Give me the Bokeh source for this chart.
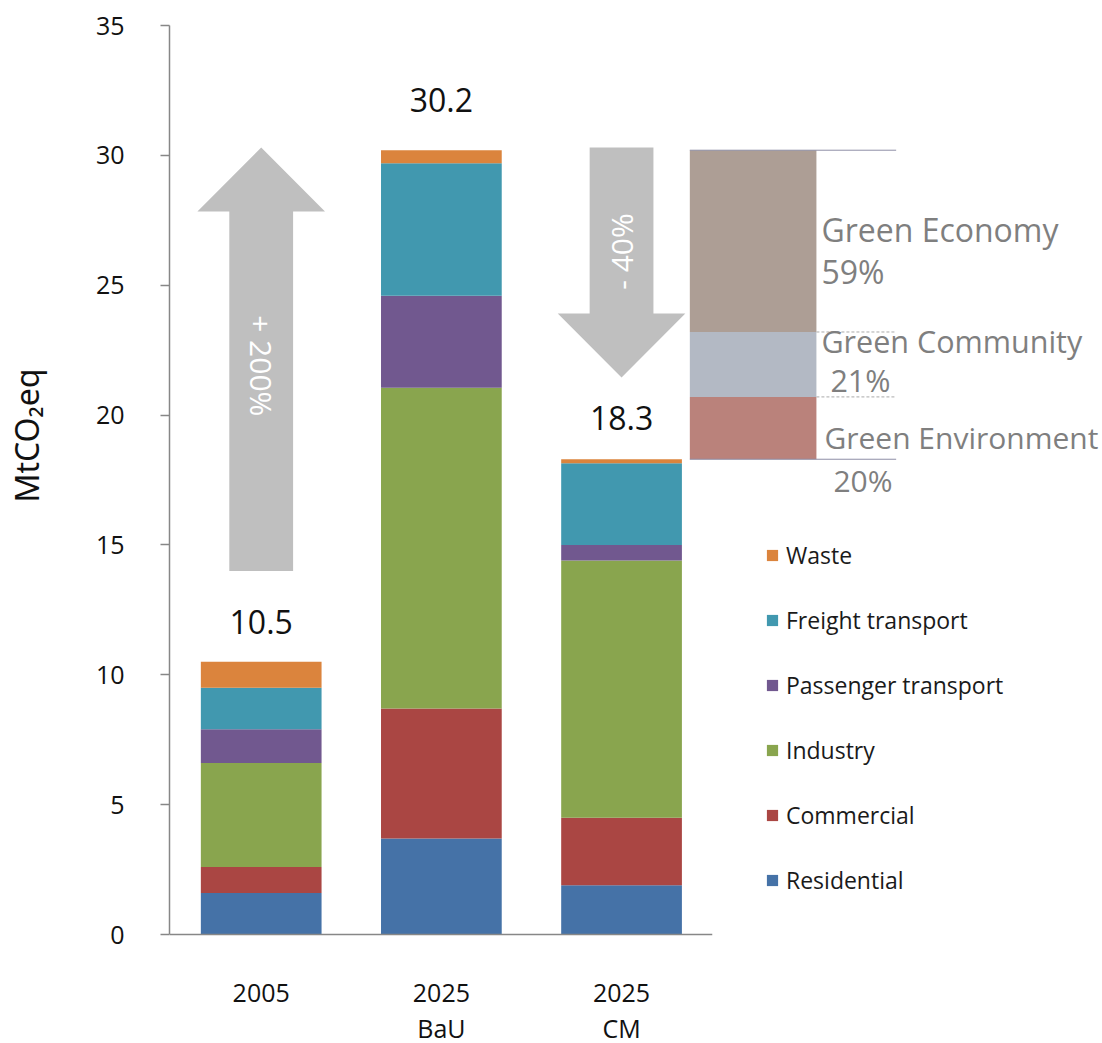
import math
from bokeh.plotting import figure
from bokeh.models import (ColumnDataSource, Range1d, FixedTicker, Legend, LegendItem, Title)
from bokeh.core.properties import value
from bokeh.embed import file_html
from bokeh.resources import INLINE

# ---------------- data ----------------
categories = ["2005", "2025 BaU", "2025 CM"]
cat_line1 = ["2005", "2025", "2025"]
cat_line2 = ["", "BaU", "CM"]
sectors = ["Residential", "Commercial", "Industry", "Passenger transport", "Freight transport", "Waste"]
residential = [1.6, 3.7, 1.9]
commercial = [1.0, 5.0, 2.6]
industry = [4.0, 12.35, 9.9]
passenger = [1.3, 3.55, 0.6]
freight = [1.6, 5.1, 3.15]
waste = [1.0, 0.5, 0.15]
totals = [10.5, 30.2, 18.3]
total_labels = ["10.5", "30.2", "18.3"]

colors = ["#4572A7", "#AA4643", "#89A54E", "#71588F", "#4198AF", "#DB843D"]

# reduction split (from 2025 CM total upward)
green_names = ["Green Environment", "Green Community", "Green Economy"]
green_pct = ["20%", "21%", "59%"]
green_heights = [2.4, 2.5, 7.0]
green_colors = ["#BA827B", "#B3B9C4", "#AD9E95"]

# arrows: change between scenarios
arrow_x = [0, 2]
arrow_from = [14.0, 30.3]
arrow_to = [30.3, 21.45]
arrow_text = ["+ 200%", "- 40%"]

y_ticks = [0, 5, 10, 15, 20, 25, 30, 35]

# ---------------- layout ----------------
W, H = 1102, 1043
FL, FT = 166, 10          # frame left / top (px)
X0PX, Y0PX = 258, 934     # pixel of category 0 / y = 0
PX_X = 180.75             # px per category unit
PX_Y = 25.97              # px per y unit
x_start = -(X0PX - FL) / PX_X
x_end = x_start + (W - FL) / PX_X
y_end = (Y0PX - FT) / PX_Y
y_start = -(H - Y0PX) / PX_Y

p = figure(width=W, height=H, output_backend="svg", toolbar_location=None,
           x_range=Range1d(x_start, x_end), y_range=Range1d(y_start, y_end),
           x_axis_type=None, min_border_left=FL, min_border_right=0,
           min_border_top=FT, min_border_bottom=0)
p.outline_line_color = None
p.grid.visible = False
p.background_fill_color = "white"

FONT = "Open Sans"
ax = p.yaxis[0]
ax.ticker = FixedTicker(ticks=y_ticks)
ax.bounds = (0, 35)
ax.axis_line_color = "#878787"
ax.axis_line_width = 1.5
ax.major_tick_line_color = "#878787"
ax.major_tick_line_width = 1.5
ax.major_tick_out = 9
ax.major_tick_in = 0
ax.minor_tick_line_color = None
ax.major_label_text_font = FONT
ax.major_label_text_font_size = "25px"
ax.major_label_text_color = "#111111"
ax.major_label_standoff = 36

# y axis title (second, blank line keeps it away from the tick labels)
p.add_layout(Title(text="MtCO₂eq\n\u00a0", align="right", offset=358, standoff=4,
                   text_font="Noto Sans", text_font_size="32px", text_font_style="normal",
                   text_color="#111111"), "left")

# bars
xs = list(range(len(categories)))
src = ColumnDataSource(dict(x=xs, Residential=residential, Commercial=commercial, Industry=industry,
                            **{"Passenger transport": passenger, "Freight transport": freight},
                            Waste=waste, total=totals, tlab=total_labels,
                            l1=cat_line1, l2=cat_line2))
rs = p.vbar_stack(sectors, x="x", width=0.67, source=src, color=colors, line_color=None)

# baseline (x axis line)
p.segment(x0=[x_start], y0=[0], x1=[2 + 91 / PX_X], y1=[0], line_color="#878787", line_width=1.5)

# totals
src.data["toff"] = [-40, -50, -41]
p.text(x="x", y="total", text="tlab", source=src, text_align="center", text_baseline="alphabetic",
       y_offset="toff", text_font=value(FONT), text_font_size="32px", text_color="#111111")

# category labels
p.text(x="x", y=0, text="l1", source=src, text_align="center", text_baseline="middle",
       y_offset=58, text_font=value(FONT), text_font_size="25px", text_color="#111111")
p.text(x="x", y=0, text="l2", source=src, text_align="center", text_baseline="middle",
       y_offset=93, text_font=value(FONT), text_font_size="25px", text_color="#111111")

# arrows
shaft_hw = 32 / PX_X
head_hw = 64 / PX_X
head_len = 64 / PX_Y
axs, ays = [], []
for xc, y0, y1 in zip(arrow_x, arrow_from, arrow_to):
    d = 1 if y1 > y0 else -1
    yb = y1 - d * head_len
    axs.append([xc - shaft_hw, xc - shaft_hw, xc - head_hw, xc, xc + head_hw, xc + shaft_hw, xc + shaft_hw])
    ays.append([y0, yb, yb, y1, yb, yb, y0])
p.patches(axs, ays, fill_color="#BFBFBF", line_color=None)
p.text(x=[arrow_x[0]], y=[21.9], text=[arrow_text[0]], angle=-math.pi / 2, text_align="center",
       text_baseline="middle", text_font=value(FONT), text_font_size="30px", text_color="white")
p.text(x=[arrow_x[1]], y=[26.3], text=[arrow_text[1]], angle=math.pi / 2, text_align="center",
       text_baseline="middle", text_font=value(FONT), text_font_size="30px", text_color="white")

# green breakdown blocks
gx0 = (688 - X0PX) / PX_X
gx1 = (815 - X0PX) / PX_X
gxl = (895 - X0PX) / PX_X
bottoms, tops = [], []
b = totals[2]
for h in green_heights:
    bottoms.append(b)
    tops.append(b + h)
    b += h
gsrc = ColumnDataSource(dict(bottom=bottoms, top=tops, color=green_colors, name=green_names, pct=green_pct,
                             mid=[(a + c) / 2 for a, c in zip(bottoms, tops)]))
p.quad(left=gx0, right=gx1, bottom="bottom", top="top", fill_color="color", line_color=None, source=gsrc)
p.segment(x0=[gx0, gx0], y0=[tops[-1], bottoms[0]], x1=[gxl, gxl], y1=[tops[-1], bottoms[0]],
          line_color="#8E8EA6", line_width=1)
p.segment(x0=[gx1, gx1], y0=[tops[0], tops[1]], x1=[gxl, gxl], y1=[tops[0], tops[1]],
          line_color="#AAAAAA", line_width=1, line_dash="3 2")
gsrc.data["nx"] = [8, 5, 5]
gsrc.data["ny"] = [9, -23, -12]
gsrc.data["px"] = [17, 14, 5]
gsrc.data["py"] = [52, 16, 30]
gsrc.data["fs"] = ["30px", "30.5px", "32px"]
p.text(x=gx1, y="mid", text="name", x_offset="nx", y_offset="ny", source=gsrc, text_align="left",
       text_baseline="alphabetic", text_font=value(FONT), text_font_size="fs", text_color="#7F7F7F")
p.text(x=gx1, y="mid", text="pct", x_offset="px", y_offset="py", source=gsrc, text_align="left",
       text_baseline="alphabetic", text_font=value(FONT), text_font_size="fs", text_color="#7F7F7F")

# legend
items = [LegendItem(label=s, renderers=[r]) for s, r in zip(sectors, rs)][::-1]
legend = Legend(items=items, location=(596, 147), orientation="vertical",
                glyph_width=14, glyph_height=14, label_standoff=7, spacing=33,
                label_text_font=FONT, label_text_font_size="23px", label_text_color="#1A1A1A",
                padding=0, margin=0, border_line_color=None, background_fill_alpha=0)
p.add_layout(legend, "center")

open("out.html", "w").write(file_html(p, INLINE))
